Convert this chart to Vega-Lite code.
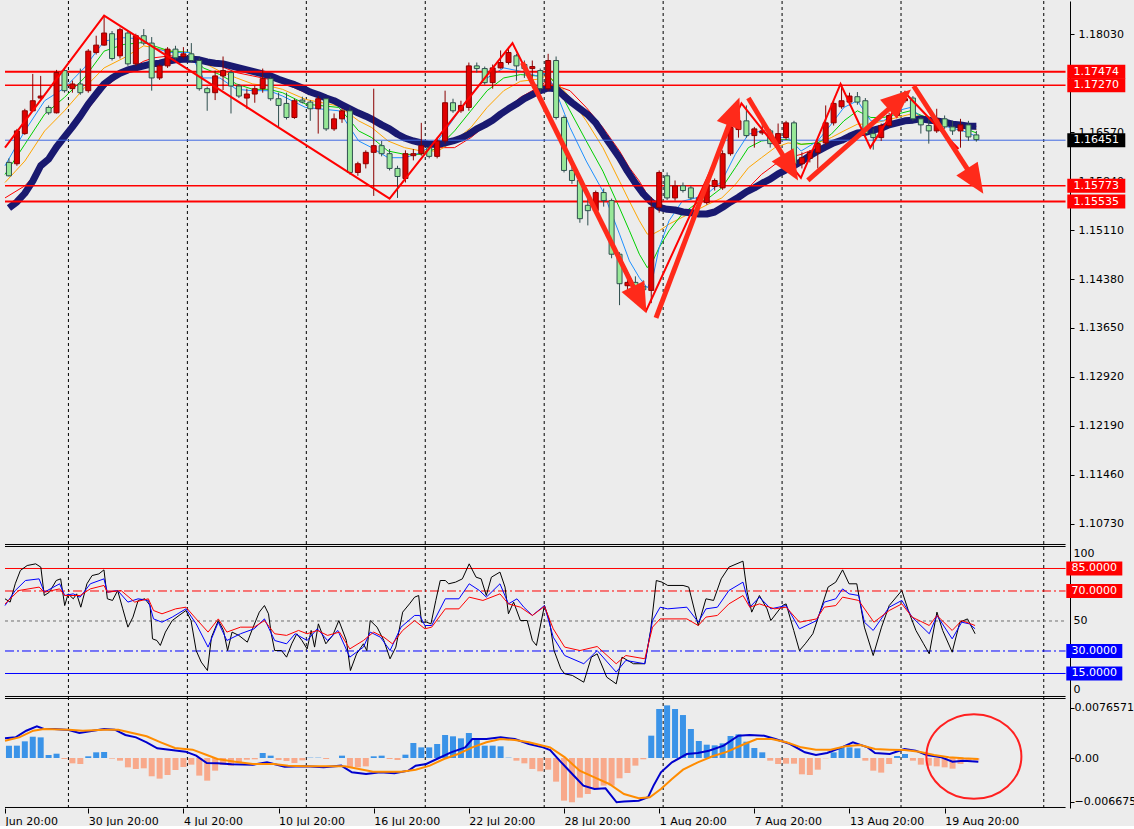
{
"$schema":"https://vega.github.io/schema/vega-lite/v6.json",
"background":"#ECECEC",
"padding":0,
"width":1134,"height":807,
"config":{"view":{"stroke":null},"axis":{"title":null,"labelFont":"DejaVu Sans","labelFontSize":11,"labelColor":"#000000","tickColor":"#000000","domain":false,"grid":false,"labelOverlap":false,"labelFlush":false}},
"resolve":{"scale":{"y":"independent","color":"independent","strokeWidth":"independent","strokeDash":"independent"},"axis":{"x":"independent","y":"independent"}},
"datasets":{
"grid":[{"x":7.5},{"x":22.5},{"x":37.5},{"x":52.5},{"x":67.5},{"x":82.5},{"x":97.5},{"x":112.5},{"x":130.5}],
"sep":[{"p":101.0},{"p":99.667},{"p":-0.333},{"p":-1.667},{"p":-74.333}],
"px":[
{"x":0,"o":1.1612,"h":1.1618,"l":1.1591,"c":1.1592,"ma":1.1544},
{"x":1,"o":1.1610,"h":1.1662,"l":1.1607,"c":1.1659,"ma":1.1553},
{"x":2,"o":1.1655,"h":1.1692,"l":1.1653,"c":1.1689,"ma":1.1566},
{"x":3,"o":1.1689,"h":1.1744,"l":1.1688,"c":1.1704,"ma":1.1584},
{"x":4,"o":1.1708,"h":1.1741,"l":1.1707,"c":1.1711,"ma":1.1607},
{"x":5,"o":1.1694,"h":1.1697,"l":1.1683,"c":1.1686,"ma":1.1617},
{"x":6,"o":1.1686,"h":1.1750,"l":1.1685,"c":1.1746,"ma":1.1635},
{"x":7,"o":1.1749,"h":1.1752,"l":1.1716,"c":1.1719,"ma":1.1650},
{"x":8,"o":1.1722,"h":1.1734,"l":1.1716,"c":1.1729,"ma":1.1665},
{"x":9,"o":1.1729,"h":1.1752,"l":1.1713,"c":1.1716,"ma":1.1681},
{"x":10,"o":1.1719,"h":1.1781,"l":1.1716,"c":1.1778,"ma":1.1699},
{"x":11,"o":1.1776,"h":1.1801,"l":1.1773,"c":1.1787,"ma":1.1714},
{"x":12,"o":1.1787,"h":1.1831,"l":1.1786,"c":1.1805,"ma":1.1729},
{"x":13,"o":1.1804,"h":1.1808,"l":1.1764,"c":1.1767,"ma":1.1738},
{"x":14,"o":1.1771,"h":1.1813,"l":1.1767,"c":1.1810,"ma":1.1745},
{"x":15,"o":1.1805,"h":1.1808,"l":1.1756,"c":1.1759,"ma":1.1750},
{"x":16,"o":1.1759,"h":1.1804,"l":1.1756,"c":1.1801,"ma":1.1753},
{"x":17,"o":1.1801,"h":1.1811,"l":1.1787,"c":1.1790,"ma":1.1756},
{"x":18,"o":1.1790,"h":1.1799,"l":1.1719,"c":1.1738,"ma":1.1759},
{"x":19,"o":1.1738,"h":1.1759,"l":1.1735,"c":1.1756,"ma":1.1760},
{"x":20,"o":1.1756,"h":1.1784,"l":1.1753,"c":1.1781,"ma":1.1763},
{"x":21,"o":1.1781,"h":1.1786,"l":1.1765,"c":1.1768,"ma":1.1765},
{"x":22,"o":1.1770,"h":1.1784,"l":1.1767,"c":1.1774,"ma":1.1766},
{"x":23,"o":1.1774,"h":1.1790,"l":1.1761,"c":1.1764,"ma":1.1766},
{"x":24,"o":1.1764,"h":1.1768,"l":1.1719,"c":1.1722,"ma":1.1765},
{"x":25,"o":1.1722,"h":1.1725,"l":1.1689,"c":1.1716,"ma":1.1762},
{"x":26,"o":1.1716,"h":1.1749,"l":1.1705,"c":1.1741,"ma":1.1760},
{"x":27,"o":1.1741,"h":1.1770,"l":1.1720,"c":1.1749,"ma":1.1759},
{"x":28,"o":1.1746,"h":1.1749,"l":1.1685,"c":1.1726,"ma":1.1756},
{"x":29,"o":1.1726,"h":1.1729,"l":1.1708,"c":1.1711,"ma":1.1753},
{"x":30,"o":1.1708,"h":1.1722,"l":1.1692,"c":1.1714,"ma":1.1750},
{"x":31,"o":1.1714,"h":1.1726,"l":1.1701,"c":1.1722,"ma":1.1747},
{"x":32,"o":1.1722,"h":1.1752,"l":1.1716,"c":1.1737,"ma":1.1744},
{"x":33,"o":1.1737,"h":1.1740,"l":1.1704,"c":1.1707,"ma":1.1741},
{"x":34,"o":1.1707,"h":1.1716,"l":1.1664,"c":1.1697,"ma":1.1736},
{"x":35,"o":1.1700,"h":1.1716,"l":1.1676,"c":1.1679,"ma":1.1732},
{"x":36,"o":1.1679,"h":1.1707,"l":1.1677,"c":1.1704,"ma":1.1728},
{"x":37,"o":1.1705,"h":1.1710,"l":1.1700,"c":1.1702,"ma":1.1723},
{"x":38,"o":1.1702,"h":1.1705,"l":1.1674,"c":1.1692,"ma":1.1717},
{"x":39,"o":1.1692,"h":1.1711,"l":1.1655,"c":1.1707,"ma":1.1713},
{"x":40,"o":1.1707,"h":1.1708,"l":1.1659,"c":1.1662,"ma":1.1708},
{"x":41,"o":1.1662,"h":1.1685,"l":1.1659,"c":1.1677,"ma":1.1704},
{"x":42,"o":1.1677,"h":1.1692,"l":1.1671,"c":1.1689,"ma":1.1698},
{"x":43,"o":1.1689,"h":1.1694,"l":1.1594,"c":1.1597,"ma":1.1692},
{"x":44,"o":1.1597,"h":1.1613,"l":1.1592,"c":1.1610,"ma":1.1686},
{"x":45,"o":1.1610,"h":1.1630,"l":1.1603,"c":1.1627,"ma":1.1681},
{"x":46,"o":1.1627,"h":1.1722,"l":1.1562,"c":1.1637,"ma":1.1675},
{"x":47,"o":1.1637,"h":1.1644,"l":1.1621,"c":1.1625,"ma":1.1668},
{"x":48,"o":1.1625,"h":1.1632,"l":1.1600,"c":1.1603,"ma":1.1662},
{"x":49,"o":1.1603,"h":1.1607,"l":1.1559,"c":1.1591,"ma":1.1654},
{"x":50,"o":1.1588,"h":1.1630,"l":1.1582,"c":1.1625,"ma":1.1648},
{"x":51,"o":1.1622,"h":1.1632,"l":1.1615,"c":1.1625,"ma":1.1644},
{"x":52,"o":1.1625,"h":1.1671,"l":1.1622,"c":1.1637,"ma":1.1641},
{"x":53,"o":1.1634,"h":1.1637,"l":1.1618,"c":1.1621,"ma":1.1639},
{"x":54,"o":1.1621,"h":1.1649,"l":1.1618,"c":1.1644,"ma":1.1639},
{"x":55,"o":1.1644,"h":1.1719,"l":1.1640,"c":1.1701,"ma":1.1641},
{"x":56,"o":1.1701,"h":1.1707,"l":1.1686,"c":1.1689,"ma":1.1644},
{"x":57,"o":1.1689,"h":1.1704,"l":1.1686,"c":1.1697,"ma":1.1648},
{"x":58,"o":1.1694,"h":1.1761,"l":1.1689,"c":1.1756,"ma":1.1654},
{"x":59,"o":1.1756,"h":1.1761,"l":1.1746,"c":1.1752,"ma":1.1662},
{"x":60,"o":1.1752,"h":1.1755,"l":1.1728,"c":1.1731,"ma":1.1668},
{"x":61,"o":1.1731,"h":1.1758,"l":1.1722,"c":1.1753,"ma":1.1675},
{"x":62,"o":1.1753,"h":1.1779,"l":1.1752,"c":1.1761,"ma":1.1684},
{"x":63,"o":1.1761,"h":1.1781,"l":1.1758,"c":1.1776,"ma":1.1692},
{"x":64,"o":1.1771,"h":1.1774,"l":1.1734,"c":1.1756,"ma":1.1699},
{"x":65,"o":1.1758,"h":1.1764,"l":1.1738,"c":1.1752,"ma":1.1707},
{"x":66,"o":1.1752,"h":1.1764,"l":1.1738,"c":1.1755,"ma":1.1713},
{"x":67,"o":1.1749,"h":1.1752,"l":1.1716,"c":1.1722,"ma":1.1719},
{"x":68,"o":1.1722,"h":1.1774,"l":1.1719,"c":1.1764,"ma":1.1723},
{"x":69,"o":1.1764,"h":1.1770,"l":1.1676,"c":1.1679,"ma":1.1722},
{"x":70,"o":1.1679,"h":1.1682,"l":1.1597,"c":1.1600,"ma":1.1711},
{"x":71,"o":1.1600,"h":1.1607,"l":1.1580,"c":1.1585,"ma":1.1701},
{"x":72,"o":1.1585,"h":1.1591,"l":1.1522,"c":1.1528,"ma":1.1692},
{"x":73,"o":1.1548,"h":1.1558,"l":1.1518,"c":1.1540,"ma":1.1683},
{"x":74,"o":1.1540,"h":1.1570,"l":1.1537,"c":1.1567,"ma":1.1671},
{"x":75,"o":1.1567,"h":1.1573,"l":1.1546,"c":1.1555,"ma":1.1653},
{"x":76,"o":1.1555,"h":1.1558,"l":1.1469,"c":1.1475,"ma":1.1636},
{"x":77,"o":1.1475,"h":1.1478,"l":1.1399,"c":1.1431,"ma":1.1619},
{"x":78,"o":1.1428,"h":1.1439,"l":1.1421,"c":1.1433,"ma":1.1599},
{"x":79,"o":1.1433,"h":1.1442,"l":1.1418,"c":1.1427,"ma":1.1581},
{"x":80,"o":1.1427,"h":1.1436,"l":1.1412,"c":1.1422,"ma":1.1565},
{"x":81,"o":1.1421,"h":1.1560,"l":1.1402,"c":1.1545,"ma":1.1553},
{"x":82,"o":1.1545,"h":1.1600,"l":1.1537,"c":1.1597,"ma":1.1545},
{"x":83,"o":1.1592,"h":1.1597,"l":1.1556,"c":1.1559,"ma":1.1542},
{"x":84,"o":1.1559,"h":1.1585,"l":1.1555,"c":1.1577,"ma":1.1541},
{"x":85,"o":1.1577,"h":1.1582,"l":1.1567,"c":1.1570,"ma":1.1538},
{"x":86,"o":1.1574,"h":1.1577,"l":1.1556,"c":1.1559,"ma":1.1537},
{"x":87,"o":1.1559,"h":1.1562,"l":1.1533,"c":1.1552,"ma":1.1535},
{"x":88,"o":1.1552,"h":1.1585,"l":1.1549,"c":1.1579,"ma":1.1535},
{"x":89,"o":1.1576,"h":1.1588,"l":1.1570,"c":1.1585,"ma":1.1538},
{"x":90,"o":1.1574,"h":1.1630,"l":1.1571,"c":1.1625,"ma":1.1545},
{"x":91,"o":1.1625,"h":1.1667,"l":1.1622,"c":1.1664,"ma":1.1553},
{"x":92,"o":1.1661,"h":1.1677,"l":1.1649,"c":1.1674,"ma":1.1560},
{"x":93,"o":1.1674,"h":1.1697,"l":1.1649,"c":1.1652,"ma":1.1568},
{"x":94,"o":1.1652,"h":1.1665,"l":1.1634,"c":1.1662,"ma":1.1574},
{"x":95,"o":1.1656,"h":1.1677,"l":1.1653,"c":1.1659,"ma":1.1581},
{"x":96,"o":1.1659,"h":1.1662,"l":1.1634,"c":1.1640,"ma":1.1587},
{"x":97,"o":1.1640,"h":1.1670,"l":1.1637,"c":1.1655,"ma":1.1595},
{"x":98,"o":1.1649,"h":1.1674,"l":1.1646,"c":1.1671,"ma":1.1601},
{"x":99,"o":1.1671,"h":1.1674,"l":1.1606,"c":1.1610,"ma":1.1607},
{"x":100,"o":1.1610,"h":1.1627,"l":1.1603,"c":1.1619,"ma":1.1614},
{"x":101,"o":1.1618,"h":1.1630,"l":1.1612,"c":1.1627,"ma":1.1622},
{"x":102,"o":1.1627,"h":1.1644,"l":1.1603,"c":1.1640,"ma":1.1629},
{"x":103,"o":1.1641,"h":1.1697,"l":1.1638,"c":1.1671,"ma":1.1635},
{"x":104,"o":1.1671,"h":1.1704,"l":1.1667,"c":1.1700,"ma":1.1641},
{"x":105,"o":1.1695,"h":1.1729,"l":1.1692,"c":1.1704,"ma":1.1645},
{"x":106,"o":1.1702,"h":1.1716,"l":1.1697,"c":1.1711,"ma":1.1651},
{"x":107,"o":1.1710,"h":1.1717,"l":1.1698,"c":1.1702,"ma":1.1656},
{"x":108,"o":1.1704,"h":1.1708,"l":1.1650,"c":1.1655,"ma":1.1657},
{"x":109,"o":1.1655,"h":1.1662,"l":1.1631,"c":1.1649,"ma":1.1660},
{"x":110,"o":1.1649,"h":1.1670,"l":1.1644,"c":1.1667,"ma":1.1663},
{"x":111,"o":1.1667,"h":1.1686,"l":1.1664,"c":1.1682,"ma":1.1668},
{"x":112,"o":1.1682,"h":1.1711,"l":1.1679,"c":1.1704,"ma":1.1671},
{"x":113,"o":1.1704,"h":1.1719,"l":1.1701,"c":1.1707,"ma":1.1674},
{"x":114,"o":1.1708,"h":1.1711,"l":1.1674,"c":1.1677,"ma":1.1675},
{"x":115,"o":1.1677,"h":1.1680,"l":1.1655,"c":1.1668,"ma":1.1677},
{"x":116,"o":1.1667,"h":1.1677,"l":1.1640,"c":1.1659,"ma":1.1675},
{"x":117,"o":1.1659,"h":1.1692,"l":1.1656,"c":1.1677,"ma":1.1674},
{"x":118,"o":1.1677,"h":1.1682,"l":1.1662,"c":1.1665,"ma":1.1672},
{"x":119,"o":1.1665,"h":1.1674,"l":1.1653,"c":1.1659,"ma":1.1669},
{"x":120,"o":1.1659,"h":1.1677,"l":1.1634,"c":1.1668,"ma":1.1668},
{"x":121,"o":1.1668,"h":1.1674,"l":1.1644,"c":1.1650,"ma":1.1666},
{"x":122,"o":1.1653,"h":1.1659,"l":1.1643,"c":1.1646,"ma":1.1666}
],
"rb":[
{"x":-0.5,"b":1.1607,"g":1.1594,"o":1.1582,"r":1.1559},
{"x":2,"b":1.1659,"g":1.1639,"o":1.1614,"r":1.1577},
{"x":4.5,"b":1.1704,"g":1.1684,"o":1.1659,"r":1.1609},
{"x":7,"b":1.1723,"g":1.1709,"o":1.1689,"r":1.1644},
{"x":9.5,"b":1.1753,"g":1.1738,"o":1.1723,"r":1.1684},
{"x":12,"b":1.1793,"g":1.1778,"o":1.1753,"r":1.1723},
{"x":14.5,"b":1.1798,"g":1.1788,"o":1.1768,"r":1.1746},
{"x":17,"b":1.1796,"g":1.1791,"o":1.1786,"r":1.1763},
{"x":18.25,"b":1.1783,"g":1.1786,"o":1.1783,"r":1.1768},
{"x":20.3,"b":1.1776,"g":1.1778,"o":1.1778,"r":1.1771},
{"x":22.8,"b":1.1776,"g":1.1776,"o":1.1776,"r":1.1768},
{"x":24.5,"b":1.1738,"g":1.1753,"o":1.1761,"r":1.1763},
{"x":26.6,"b":1.1738,"g":1.1743,"o":1.1748,"r":1.1756},
{"x":28.7,"b":1.1721,"g":1.1729,"o":1.1738,"r":1.1746},
{"x":30.75,"b":1.1719,"g":1.1721,"o":1.1729,"r":1.1741},
{"x":32.8,"b":1.1719,"g":1.1721,"o":1.1726,"r":1.1736},
{"x":34.5,"b":1.1711,"g":1.1716,"o":1.1721,"r":1.1731},
{"x":37.4,"b":1.1694,"g":1.1699,"o":1.1706,"r":1.1716},
{"x":41.6,"b":1.1689,"g":1.1694,"o":1.1696,"r":1.1704},
{"x":44.1,"b":1.1644,"g":1.1659,"o":1.1674,"r":1.1689},
{"x":45.75,"b":1.1634,"g":1.1649,"o":1.1664,"r":1.1679},
{"x":47.8,"b":1.1619,"g":1.1629,"o":1.1644,"r":1.1661},
{"x":49.9,"b":1.1619,"g":1.1624,"o":1.1634,"r":1.1649},
{"x":52,"b":1.1627,"g":1.1624,"o":1.1629,"r":1.1639},
{"x":54.1,"b":1.1644,"g":1.1634,"o":1.1629,"r":1.1634},
{"x":56.2,"b":1.1679,"g":1.1659,"o":1.1644,"r":1.1634},
{"x":58.25,"b":1.1714,"g":1.1689,"o":1.1664,"r":1.1649},
{"x":60.3,"b":1.1738,"g":1.1719,"o":1.1694,"r":1.1669},
{"x":62.4,"b":1.1753,"g":1.1738,"o":1.1719,"r":1.1689},
{"x":64.5,"b":1.1748,"g":1.1743,"o":1.1733,"r":1.1709},
{"x":66.6,"b":1.1741,"g":1.1741,"o":1.1736,"r":1.1723},
{"x":67.8,"b":1.1746,"g":1.1746,"o":1.1741,"r":1.1733},
{"x":69.1,"b":1.1714,"g":1.1726,"o":1.1731,"r":1.1726},
{"x":70.75,"b":1.1664,"g":1.1689,"o":1.1709,"r":1.1719},
{"x":72.8,"b":1.1614,"g":1.1644,"o":1.1674,"r":1.1694},
{"x":74.9,"b":1.1569,"g":1.1599,"o":1.1634,"r":1.1664},
{"x":77,"b":1.1505,"g":1.1544,"o":1.1584,"r":1.1629},
{"x":78.25,"b":1.1465,"g":1.1510,"o":1.1554,"r":1.1604},
{"x":79.5,"b":1.1440,"g":1.1475,"o":1.1525,"r":1.1584},
{"x":80.5,"b":1.1425,"g":1.1455,"o":1.1505,"r":1.1564},
{"x":81.2,"b":1.1440,"g":1.1465,"o":1.1505,"r":1.1557},
{"x":82,"b":1.1485,"g":1.1485,"o":1.1510,"r":1.1550},
{"x":83.25,"b":1.1525,"g":1.1510,"o":1.1520,"r":1.1544},
{"x":84.9,"b":1.1554,"g":1.1535,"o":1.1530,"r":1.1540},
{"x":86.6,"b":1.1559,"g":1.1550,"o":1.1540,"r":1.1535},
{"x":88.25,"b":1.1567,"g":1.1559,"o":1.1550,"r":1.1537},
{"x":89.9,"b":1.1584,"g":1.1574,"o":1.1559,"r":1.1542},
{"x":91.6,"b":1.1624,"g":1.1604,"o":1.1579,"r":1.1559},
{"x":93.25,"b":1.1654,"g":1.1634,"o":1.1604,"r":1.1574},
{"x":94.9,"b":1.1659,"g":1.1644,"o":1.1619,"r":1.1594},
{"x":96.6,"b":1.1649,"g":1.1646,"o":1.1634,"r":1.1609},
{"x":98.25,"b":1.1649,"g":1.1646,"o":1.1641,"r":1.1619},
{"x":99.9,"b":1.1629,"g":1.1639,"o":1.1639,"r":1.1624},
{"x":102,"b":1.1644,"g":1.1641,"o":1.1641,"r":1.1634},
{"x":103.7,"b":1.1669,"g":1.1654,"o":1.1649,"r":1.1641},
{"x":105.3,"b":1.1694,"g":1.1674,"o":1.1659,"r":1.1646},
{"x":107,"b":1.1704,"g":1.1689,"o":1.1669,"r":1.1651},
{"x":108.7,"b":1.1674,"g":1.1679,"o":1.1669,"r":1.1656},
{"x":110.3,"b":1.1674,"g":1.1679,"o":1.1674,"r":1.1661},
{"x":112,"b":1.1689,"g":1.1684,"o":1.1679,"r":1.1669},
{"x":113.7,"b":1.1694,"g":1.1689,"o":1.1684,"r":1.1674},
{"x":115.3,"b":1.1676,"g":1.1681,"o":1.1681,"r":1.1676},
{"x":117,"b":1.1669,"g":1.1674,"o":1.1678,"r":1.1675},
{"x":118.7,"b":1.1664,"g":1.1669,"o":1.1671,"r":1.1673},
{"x":120.3,"b":1.1659,"g":1.1664,"o":1.1668,"r":1.1670},
{"x":122,"b":1.1651,"g":1.1656,"o":1.1661,"r":1.1666}
],
"lv":[{"p":1.17474,"k":"thick"},{"p":1.17270,"k":"thin"},{"p":1.15773,"k":"thin"},{"p":1.15535,"k":"thick"},{"p":1.16451,"k":"cur"}],
"zz":[{"x":-0.5,"v":1.1634},{"x":12,"v":1.1831},{"x":48,"v":1.1558},{"x":63.5,"v":1.1790},{"x":80.375,"v":1.1391},{"x":92.375,"v":1.1700},{"x":99.875,"v":1.1589},{"x":104.875,"v":1.1729},{"x":108.625,"v":1.1634},{"x":113,"v":1.1716},{"x":119.75,"v":1.1632}],
"arr":[{"a":1,"x":64.75,"v":1.1761},{"a":1,"x":79.54,"v":1.1407},{"a":2,"x":81.6,"v":1.1380},{"a":2,"x":91.45,"v":1.1688},{"a":3,"x":93.25,"v":1.1708},{"a":3,"x":98.54,"v":1.1604},{"a":4,"x":100.75,"v":1.1585},{"a":4,"x":112.34,"v":1.1706},{"a":5,"x":114.1,"v":1.1726},{"a":5,"x":121.85,"v":1.1584}],
"hd":[{"a":1,"x":79.54,"v":1.1407},{"a":2,"x":91.45,"v":1.1688},{"a":3,"x":98.54,"v":1.1604},{"a":4,"x":112.34,"v":1.1706},{"a":5,"x":121.85,"v":1.1584}],
"rl":[{"p":85,"k":"r1"},{"p":70,"k":"r2"},{"p":50,"k":"mid"},{"p":30,"k":"b2"},{"p":15,"k":"b1"}],
"rsi":[
{"x":-0.5,"s":"k","v":64.8},{"x":0.15,"s":"k","v":62.6},{"x":0.79,"s":"k","v":74.8},{"x":1.44,"s":"k","v":83.7},{"x":2.3,"s":"k","v":87},{"x":3.37,"s":"k","v":88.1},{"x":4.02,"s":"k","v":85.9},{"x":4.45,"s":"k","v":67},{"x":5.1,"s":"k","v":69.2},{"x":5.96,"s":"k","v":77},{"x":6.52,"s":"k","v":78.1},{"x":7.03,"s":"k","v":60.3},{"x":7.46,"s":"k","v":68.1},{"x":8.11,"s":"k","v":64.8},{"x":8.54,"s":"k","v":68.1},{"x":9.06,"s":"k","v":59.2},{"x":9.83,"s":"k","v":74.8},{"x":10.48,"s":"k","v":80.3},{"x":11.34,"s":"k","v":81.4},{"x":11.98,"s":"k","v":84.1},{"x":12.41,"s":"k","v":64.8},{"x":13.06,"s":"k","v":63.7},{"x":13.71,"s":"k","v":70.3},{"x":14.35,"s":"k","v":58.1},{"x":15,"s":"k","v":45.9},{"x":15.64,"s":"k","v":52.6},{"x":16.29,"s":"k","v":63.7},{"x":17.15,"s":"k","v":64.8},{"x":17.8,"s":"k","v":60.3},{"x":18.1,"s":"k","v":38.1},{"x":18.66,"s":"k","v":37},{"x":19.09,"s":"k","v":33.7},{"x":19.73,"s":"k","v":42.6},{"x":20.59,"s":"k","v":50.3},{"x":21.45,"s":"k","v":53.7},{"x":22.32,"s":"k","v":57},{"x":22.96,"s":"k","v":50.3},{"x":23.61,"s":"k","v":30.3},{"x":24.25,"s":"k","v":22.6},{"x":25.03,"s":"k","v":17},{"x":25.54,"s":"k","v":39.2},{"x":26.4,"s":"k","v":50.3},{"x":27.05,"s":"k","v":43.7},{"x":27.57,"s":"k","v":30.3},{"x":28.13,"s":"k","v":42.6},{"x":28.99,"s":"k","v":40.4},{"x":30.06,"s":"k","v":35.9},{"x":30.71,"s":"k","v":44.8},{"x":31.57,"s":"k","v":55.9},{"x":32.22,"s":"k","v":60.3},{"x":32.73,"s":"k","v":54.8},{"x":33.08,"s":"k","v":41.5},{"x":33.51,"s":"k","v":30.3},{"x":34.37,"s":"k","v":30.3},{"x":35.01,"s":"k","v":25.9},{"x":35.66,"s":"k","v":34.8},{"x":36.3,"s":"k","v":41.5},{"x":36.95,"s":"k","v":37},{"x":37.6,"s":"k","v":31.4},{"x":38.11,"s":"k","v":43.7},{"x":38.54,"s":"k","v":32.6},{"x":39.02,"s":"k","v":48.1},{"x":39.96,"s":"k","v":34.8},{"x":40.83,"s":"k","v":40.4},{"x":41.6,"s":"k","v":50.3},{"x":42.55,"s":"k","v":37},{"x":43.06,"s":"k","v":17},{"x":43.84,"s":"k","v":28.1},{"x":44.7,"s":"k","v":34.8},{"x":45.13,"s":"k","v":30.3},{"x":45.56,"s":"k","v":50.3},{"x":46.42,"s":"k","v":45.9},{"x":47.28,"s":"k","v":37},{"x":48.06,"s":"k","v":24.8},{"x":48.79,"s":"k","v":32.6},{"x":49.65,"s":"k","v":55.9},{"x":50.51,"s":"k","v":61.4},{"x":51.16,"s":"k","v":65.9},{"x":51.67,"s":"k","v":67},{"x":52.02,"s":"k","v":49.2},{"x":52.66,"s":"k","v":49.2},{"x":53.22,"s":"k","v":48.1},{"x":53.83,"s":"k","v":63.7},{"x":54.39,"s":"k","v":77},{"x":55.03,"s":"k","v":77},{"x":55.46,"s":"k","v":74.8},{"x":56.32,"s":"k","v":75.9},{"x":57.18,"s":"k","v":78.1},{"x":58.04,"s":"k","v":88.1},{"x":58.91,"s":"k","v":79.2},{"x":59.55,"s":"k","v":78.1},{"x":60.2,"s":"k","v":67},{"x":60.84,"s":"k","v":79.2},{"x":61.92,"s":"k","v":82.6},{"x":62.56,"s":"k","v":72.6},{"x":62.99,"s":"k","v":54.8},{"x":63.64,"s":"k","v":62.6},{"x":64.5,"s":"k","v":50.3},{"x":65.36,"s":"k","v":50.3},{"x":66.01,"s":"k","v":37},{"x":66.52,"s":"k","v":33.7},{"x":67.53,"s":"k","v":60.3},{"x":68.16,"s":"k","v":50.3},{"x":68.74,"s":"k","v":30.3},{"x":69.6,"s":"k","v":18.1},{"x":70.08,"s":"k","v":14.8},{"x":71.05,"s":"k","v":13.7},{"x":72.49,"s":"k","v":9.2},{"x":73.45,"s":"k","v":25.9},{"x":74.18,"s":"k","v":28.1},{"x":75.38,"s":"k","v":12.6},{"x":76.58,"s":"k","v":8.1},{"x":77.31,"s":"k","v":25.9},{"x":78.75,"s":"k","v":21.5},{"x":80.19,"s":"k","v":21.5},{"x":80.92,"s":"k","v":43.7},{"x":81.64,"s":"k","v":77},{"x":82.36,"s":"k","v":75.9},{"x":83.08,"s":"k","v":73.7},{"x":85.01,"s":"k","v":73.7},{"x":85.73,"s":"k","v":72.6},{"x":86.93,"s":"k","v":47},{"x":87.9,"s":"k","v":64.8},{"x":88.86,"s":"k","v":63.7},{"x":89.82,"s":"k","v":78.1},{"x":90.79,"s":"k","v":85.9},{"x":92.57,"s":"k","v":89.9},{"x":93.1,"s":"k","v":69.2},{"x":93.67,"s":"k","v":55.9},{"x":94.64,"s":"k","v":67},{"x":95.6,"s":"k","v":58.1},{"x":96.08,"s":"k","v":50.3},{"x":97.53,"s":"k","v":60.3},{"x":98.01,"s":"k","v":61.4},{"x":98.97,"s":"k","v":43.7},{"x":99.69,"s":"k","v":30.3},{"x":100.42,"s":"k","v":34.8},{"x":101.38,"s":"k","v":41.5},{"x":102.34,"s":"k","v":57},{"x":103.3,"s":"k","v":72.6},{"x":104.27,"s":"k","v":75.9},{"x":105.13,"s":"k","v":84.1},{"x":105.95,"s":"k","v":74.8},{"x":106.92,"s":"k","v":74.8},{"x":107.88,"s":"k","v":45.9},{"x":108.99,"s":"k","v":27},{"x":110.04,"s":"k","v":45.9},{"x":111.01,"s":"k","v":60.3},{"x":112.6,"s":"k","v":70.3},{"x":113.42,"s":"k","v":57},{"x":114.38,"s":"k","v":43.7},{"x":115.34,"s":"k","v":34.8},{"x":116.06,"s":"k","v":28.1},{"x":117.03,"s":"k","v":55.9},{"x":117.75,"s":"k","v":43.7},{"x":118.95,"s":"k","v":29.2},{"x":119.91,"s":"k","v":49.2},{"x":120.88,"s":"k","v":51.4},{"x":121.84,"s":"k","v":41.5},
{"x":-0.5,"s":"b","v":60.3},{"x":0.79,"s":"b","v":70.3},{"x":2.08,"s":"b","v":77},{"x":3.8,"s":"b","v":78.1},{"x":4.45,"s":"b","v":69.2},{"x":6.39,"s":"b","v":74.8},{"x":7.03,"s":"b","v":67},{"x":8.11,"s":"b","v":68.1},{"x":8.97,"s":"b","v":65.9},{"x":10.26,"s":"b","v":74.8},{"x":11.98,"s":"b","v":78.1},{"x":12.41,"s":"b","v":69.2},{"x":13.71,"s":"b","v":70.3},{"x":15,"s":"b","v":62.6},{"x":16.29,"s":"b","v":64.8},{"x":17.58,"s":"b","v":63.7},{"x":18.23,"s":"b","v":51.4},{"x":19.3,"s":"b","v":49.2},{"x":20.59,"s":"b","v":52.6},{"x":22.32,"s":"b","v":58.1},{"x":23.61,"s":"b","v":48.1},{"x":25.11,"s":"b","v":32.6},{"x":26.4,"s":"b","v":49.2},{"x":27.48,"s":"b","v":37},{"x":29.2,"s":"b","v":41.5},{"x":30.92,"s":"b","v":44.8},{"x":32.22,"s":"b","v":51.4},{"x":33.51,"s":"b","v":37},{"x":35.01,"s":"b","v":34.8},{"x":36.09,"s":"b","v":41.5},{"x":37.6,"s":"b","v":37},{"x":38.89,"s":"b","v":44.8},{"x":40.18,"s":"b","v":37},{"x":41.47,"s":"b","v":43.7},{"x":42.98,"s":"b","v":25.9},{"x":44.7,"s":"b","v":32.6},{"x":45.56,"s":"b","v":42.6},{"x":46.85,"s":"b","v":39.2},{"x":48.06,"s":"b","v":30.3},{"x":49.44,"s":"b","v":45.9},{"x":51.16,"s":"b","v":53.7},{"x":51.8,"s":"b","v":53.7},{"x":52.45,"s":"b","v":47},{"x":53.31,"s":"b","v":47},{"x":55.03,"s":"b","v":64.8},{"x":56.75,"s":"b","v":64.8},{"x":58.04,"s":"b","v":74.8},{"x":59.34,"s":"b","v":70.3},{"x":60.2,"s":"b","v":65.9},{"x":61.92,"s":"b","v":74.8},{"x":62.99,"s":"b","v":61.4},{"x":64.07,"s":"b","v":64.8},{"x":64.93,"s":"b","v":59.2},{"x":66.01,"s":"b","v":53.7},{"x":67.53,"s":"b","v":60.3},{"x":68.64,"s":"b","v":39.2},{"x":70.08,"s":"b","v":27},{"x":72.49,"s":"b","v":21.5},{"x":74.18,"s":"b","v":30.3},{"x":76.58,"s":"b","v":15.9},{"x":77.79,"s":"b","v":23.7},{"x":80.19,"s":"b","v":21.5},{"x":81.16,"s":"b","v":50.3},{"x":82.12,"s":"b","v":59.2},{"x":83.08,"s":"b","v":58.1},{"x":85.49,"s":"b","v":59.2},{"x":86.93,"s":"b","v":49.2},{"x":87.9,"s":"b","v":58.1},{"x":89.34,"s":"b","v":59.2},{"x":90.79,"s":"b","v":70.3},{"x":92.57,"s":"b","v":75.9},{"x":93.43,"s":"b","v":59.2},{"x":94.64,"s":"b","v":65.9},{"x":96.08,"s":"b","v":58.1},{"x":98.01,"s":"b","v":60.3},{"x":99.69,"s":"b","v":44.8},{"x":101.86,"s":"b","v":50.3},{"x":102.82,"s":"b","v":62.6},{"x":104.27,"s":"b","v":64.8},{"x":105.13,"s":"b","v":71.4},{"x":105.95,"s":"b","v":68.1},{"x":107.16,"s":"b","v":67},{"x":107.88,"s":"b","v":49.2},{"x":108.99,"s":"b","v":43.7},{"x":111.01,"s":"b","v":59.2},{"x":112.6,"s":"b","v":63.7},{"x":113.9,"s":"b","v":52.6},{"x":116.06,"s":"b","v":41.5},{"x":117.03,"s":"b","v":53.7},{"x":118.95,"s":"b","v":38.1},{"x":120.15,"s":"b","v":49.2},{"x":121.12,"s":"b","v":48.1},{"x":121.84,"s":"b","v":44.8},
{"x":-0.5,"s":"r","v":61.4},{"x":1.22,"s":"r","v":70.3},{"x":3.8,"s":"r","v":72.6},{"x":4.45,"s":"r","v":69.2},{"x":6.39,"s":"r","v":71.4},{"x":7.03,"s":"r","v":67},{"x":8.97,"s":"r","v":67},{"x":10.26,"s":"r","v":71.4},{"x":11.98,"s":"r","v":73.7},{"x":12.41,"s":"r","v":69.2},{"x":14.14,"s":"r","v":70.3},{"x":15.86,"s":"r","v":62.6},{"x":17.58,"s":"r","v":64.8},{"x":18.23,"s":"r","v":57},{"x":19.3,"s":"r","v":54.8},{"x":21.02,"s":"r","v":58.1},{"x":22.32,"s":"r","v":59.2},{"x":23.61,"s":"r","v":51.4},{"x":25.11,"s":"r","v":42.6},{"x":26.4,"s":"r","v":51.4},{"x":27.48,"s":"r","v":42.6},{"x":29.2,"s":"r","v":45.9},{"x":30.92,"s":"r","v":45.9},{"x":32.22,"s":"r","v":50.3},{"x":33.51,"s":"r","v":41.5},{"x":35.01,"s":"r","v":40.4},{"x":36.52,"s":"r","v":43.7},{"x":37.6,"s":"r","v":41.5},{"x":38.89,"s":"r","v":43.7},{"x":40.18,"s":"r","v":40.4},{"x":41.69,"s":"r","v":42.6},{"x":42.98,"s":"r","v":31.4},{"x":44.7,"s":"r","v":37},{"x":45.99,"s":"r","v":42.6},{"x":47.28,"s":"r","v":39.2},{"x":48.36,"s":"r","v":34.8},{"x":49.65,"s":"r","v":43.7},{"x":51.16,"s":"r","v":50.3},{"x":52.45,"s":"r","v":44.8},{"x":53.31,"s":"r","v":45.9},{"x":55.03,"s":"r","v":58.1},{"x":56.75,"s":"r","v":58.1},{"x":58.04,"s":"r","v":65.9},{"x":59.77,"s":"r","v":63.7},{"x":61.92,"s":"r","v":68.1},{"x":62.99,"s":"r","v":61.4},{"x":64.5,"s":"r","v":59.2},{"x":66.01,"s":"r","v":53.7},{"x":67.53,"s":"r","v":59.7},{"x":68.64,"s":"r","v":44.8},{"x":70.08,"s":"r","v":32.6},{"x":72.01,"s":"r","v":30.3},{"x":74.18,"s":"r","v":33},{"x":76.58,"s":"r","v":21.5},{"x":77.79,"s":"r","v":27},{"x":80.19,"s":"r","v":24.8},{"x":81.16,"s":"r","v":45.9},{"x":82.12,"s":"r","v":51.4},{"x":85.49,"s":"r","v":51.4},{"x":86.93,"s":"r","v":47},{"x":87.9,"s":"r","v":52.6},{"x":89.34,"s":"r","v":53.7},{"x":90.79,"s":"r","v":61.4},{"x":92.57,"s":"r","v":67},{"x":93.43,"s":"r","v":59.2},{"x":94.64,"s":"r","v":61.4},{"x":96.56,"s":"r","v":58.1},{"x":98.01,"s":"r","v":59.2},{"x":99.69,"s":"r","v":49.2},{"x":101.86,"s":"r","v":51.4},{"x":102.82,"s":"r","v":59.2},{"x":104.27,"s":"r","v":60.3},{"x":105.13,"s":"r","v":65.9},{"x":107.16,"s":"r","v":63.7},{"x":109.08,"s":"r","v":49.2},{"x":111.01,"s":"r","v":57},{"x":112.6,"s":"r","v":61.4},{"x":113.9,"s":"r","v":52.6},{"x":116.06,"s":"r","v":47},{"x":117.03,"s":"r","v":53.7},{"x":118.95,"s":"r","v":43.7},{"x":120.15,"s":"r","v":50.3},{"x":121.84,"s":"r","v":47}
],
"mh":[
{"x":0,"v":0.00189},{"x":1,"v":0.00189},{"x":2,"v":0.00255},{"x":3,"v":0.00326},{"x":4,"v":0.00316},{"x":5,"v":0.00046},{"x":6,"v":0.00066},{"x":7,"v":-0.00015},{"x":8,"v":-0.00082},{"x":9,"v":-0.00092},{"x":10,"v":0.00026},{"x":11,"v":0.00087},{"x":12,"v":0.00092},{"x":13,"v":-0.0001},{"x":14,"v":-0.00041},{"x":15,"v":-0.00143},{"x":16,"v":-0.00168},{"x":17,"v":-0.00158},{"x":18,"v":-0.0028},{"x":19,"v":-0.00316},{"x":20,"v":-0.0026},{"x":21,"v":-0.00184},{"x":22,"v":-0.00138},{"x":23,"v":-0.00102},{"x":24,"v":-0.0027},{"x":25,"v":-0.00347},{"x":26,"v":-0.00194},{"x":27,"v":-0.00107},{"x":28,"v":-0.00117},{"x":29,"v":-0.00066},{"x":30,"v":-0.00026},{"x":31,"v":-0.0002},{"x":32,"v":0.00077},{"x":33,"v":0.00036},{"x":34,"v":-0.00031},{"x":35,"v":-0.00046},{"x":36,"v":-0.00077},{"x":37,"v":-0.00036},{"x":38,"v":0.00005},{"x":39,"v":0.00005},{"x":40,"v":-0.00015},{"x":41,"v":0},{"x":42,"v":0.00036},{"x":43,"v":-0.00143},{"x":44,"v":-0.00143},{"x":45,"v":-0.00128},{"x":46,"v":0.00026},{"x":47,"v":0.00036},{"x":48,"v":-0.00015},{"x":49,"v":-0.00031},{"x":50,"v":0.00051},{"x":51,"v":0.0023},{"x":52,"v":0.00163},{"x":53,"v":0.00163},{"x":54,"v":0.00214},{"x":55,"v":0.00352},{"x":56,"v":0.00332},{"x":57,"v":0.00301},{"x":58,"v":0.00383},{"x":59,"v":0.00301},{"x":60,"v":0.00189},{"x":61,"v":0.00189},{"x":62,"v":0.00179},{"x":63,"v":0.00005},{"x":64,"v":-0.00041},{"x":65,"v":-0.00082},{"x":66,"v":-0.00168},{"x":67,"v":-0.00204},{"x":68,"v":-0.00179},{"x":69,"v":-0.00362},{"x":70,"v":-0.00653},{"x":71,"v":-0.00678},{"x":72,"v":-0.00607},{"x":73,"v":-0.00551},{"x":74,"v":-0.00464},{"x":75,"v":-0.00423},{"x":76,"v":-0.00423},{"x":77,"v":-0.00311},{"x":78,"v":-0.0023},{"x":79,"v":-0.00117},{"x":80,"v":-0.0002},{"x":81,"v":0.00342},{"x":82,"v":0.0075},{"x":83,"v":0.00806},{"x":84,"v":0.0075},{"x":85,"v":0.00658},{"x":86,"v":0.00444},{"x":87,"v":0.0026},{"x":88,"v":0.00204},{"x":89,"v":0.00194},{"x":90,"v":0.00224},{"x":91,"v":0.00337},{"x":92,"v":0.00362},{"x":93,"v":0.0025},{"x":94,"v":0.00153},{"x":95,"v":0.00087},{"x":96,"v":-0.00041},{"x":97,"v":-0.00092},{"x":98,"v":-0.00087},{"x":99,"v":-0.00087},{"x":100,"v":-0.0025},{"x":101,"v":-0.0026},{"x":102,"v":-0.00179},{"x":103,"v":-0.00005},{"x":104,"v":0.00087},{"x":105,"v":0.00163},{"x":106,"v":0.00163},{"x":107,"v":0.00148},{"x":108,"v":-0.00041},{"x":109,"v":-0.00194},{"x":110,"v":-0.00224},{"x":111,"v":-0.00092},{"x":112,"v":0.00031},{"x":113,"v":0.00061},{"x":114,"v":-0.00041},{"x":115,"v":-0.00102},{"x":116,"v":-0.00117},{"x":117,"v":-0.00128},{"x":118,"v":-0.00143},{"x":119,"v":-0.00163},{"x":120,"v":-0.00092},{"x":121,"v":-0.00046},{"x":122,"v":-0.00036}
],
"ml":[
{"x":-0.5,"s":"b","v":0.00301},{"x":0.84,"s":"b","v":0.00316},{"x":2.18,"s":"b","v":0.00418},{"x":3.52,"s":"b","v":0.00485},{"x":4.41,"s":"b","v":0.00444},{"x":5.75,"s":"b","v":0.00444},{"x":7.54,"s":"b","v":0.00428},{"x":8.88,"s":"b","v":0.00383},{"x":10.21,"s":"b","v":0.00408},{"x":12,"s":"b","v":0.00444},{"x":13.34,"s":"b","v":0.00434},{"x":14.68,"s":"b","v":0.00352},{"x":16.02,"s":"b","v":0.00316},{"x":17.36,"s":"b","v":0.0024},{"x":18.7,"s":"b","v":0.00148},{"x":20.48,"s":"b","v":0.00122},{"x":22.27,"s":"b","v":0.00097},{"x":23.61,"s":"b","v":0.00036},{"x":24.95,"s":"b","v":-0.00077},{"x":26.29,"s":"b","v":-0.00082},{"x":28.07,"s":"b","v":-0.00097},{"x":30.75,"s":"b","v":-0.00102},{"x":32.54,"s":"b","v":-0.00066},{"x":34.77,"s":"b","v":-0.00133},{"x":37.45,"s":"b","v":-0.00128},{"x":39.68,"s":"b","v":-0.00143},{"x":41.91,"s":"b","v":-0.00117},{"x":43.25,"s":"b","v":-0.00219},{"x":45.04,"s":"b","v":-0.00245},{"x":46.82,"s":"b","v":-0.00219},{"x":48.61,"s":"b","v":-0.00235},{"x":50.39,"s":"b","v":-0.00194},{"x":51.29,"s":"b","v":-0.00117},{"x":52.63,"s":"b","v":-0.00092},{"x":53.96,"s":"b","v":-0.00015},{"x":55.75,"s":"b","v":0.00087},{"x":57.54,"s":"b","v":0.00163},{"x":58.43,"s":"b","v":0.00291},{"x":60.21,"s":"b","v":0.00291},{"x":62,"s":"b","v":0.00316},{"x":63.79,"s":"b","v":0.00291},{"x":65.57,"s":"b","v":0.00214},{"x":67.36,"s":"b","v":0.00163},{"x":68.25,"s":"b","v":0.0012},{"x":69.65,"s":"b","v":-0.00066},{"x":71.04,"s":"b","v":-0.00245},{"x":72.44,"s":"b","v":-0.00423},{"x":73.84,"s":"b","v":-0.00474},{"x":75.23,"s":"b","v":-0.00464},{"x":76.63,"s":"b","v":-0.00678},{"x":77.56,"s":"b","v":-0.00668},{"x":79.42,"s":"b","v":-0.00653},{"x":80.59,"s":"b","v":-0.00602},{"x":81.29,"s":"b","v":-0.00423},{"x":82.22,"s":"b","v":-0.00219},{"x":83.61,"s":"b","v":-0.00066},{"x":85.48,"s":"b","v":0.00061},{"x":86.87,"s":"b","v":0.00077},{"x":88.27,"s":"b","v":0.00112},{"x":90.13,"s":"b","v":0.00189},{"x":91.99,"s":"b","v":0.00342},{"x":93.39,"s":"b","v":0.00352},{"x":95.25,"s":"b","v":0.00342},{"x":96.65,"s":"b","v":0.00291},{"x":98.51,"s":"b","v":0.00214},{"x":100.37,"s":"b","v":0.00087},{"x":101.77,"s":"b","v":0.00046},{"x":103.17,"s":"b","v":0.00077},{"x":105.03,"s":"b","v":0.00163},{"x":106.43,"s":"b","v":0.0024},{"x":108.29,"s":"b","v":0.00163},{"x":109.22,"s":"b","v":0.00077},{"x":111.08,"s":"b","v":0.00061},{"x":112.94,"s":"b","v":0.00138},{"x":114.34,"s":"b","v":0.00112},{"x":115.74,"s":"b","v":0.00046},{"x":117.6,"s":"b","v":0.0001},{"x":118.99,"s":"b","v":-0.00056},{"x":120.39,"s":"b","v":-0.00041},{"x":122.25,"s":"b","v":-0.00056},
{"x":-0.5,"s":"o","v":0.00265},{"x":1.29,"s":"o","v":0.00316},{"x":3.07,"s":"o","v":0.00418},{"x":4.41,"s":"o","v":0.00444},{"x":7.54,"s":"o","v":0.00434},{"x":9.32,"s":"o","v":0.00418},{"x":12,"s":"o","v":0.00434},{"x":13.79,"s":"o","v":0.00434},{"x":15.57,"s":"o","v":0.00383},{"x":17.36,"s":"o","v":0.00332},{"x":19.14,"s":"o","v":0.0024},{"x":20.93,"s":"o","v":0.00153},{"x":23.16,"s":"o","v":0.00128},{"x":24.95,"s":"o","v":0.00046},{"x":26.29,"s":"o","v":-0.00015},{"x":28.52,"s":"o","v":-0.00056},{"x":30.75,"s":"o","v":-0.00092},{"x":33.43,"s":"o","v":-0.00092},{"x":35.21,"s":"o","v":-0.00117},{"x":37.45,"s":"o","v":-0.00128},{"x":39.68,"s":"o","v":-0.00128},{"x":42.36,"s":"o","v":-0.00128},{"x":44.14,"s":"o","v":-0.00168},{"x":45.93,"s":"o","v":-0.00209},{"x":47.71,"s":"o","v":-0.00209},{"x":49.5,"s":"o","v":-0.00209},{"x":51.29,"s":"o","v":-0.00179},{"x":53.07,"s":"o","v":-0.00117},{"x":54.86,"s":"o","v":-0.00015},{"x":56.64,"s":"o","v":0.00061},{"x":58.43,"s":"o","v":0.00163},{"x":60.21,"s":"o","v":0.0024},{"x":62,"s":"o","v":0.00291},{"x":63.79,"s":"o","v":0.00275},{"x":65.57,"s":"o","v":0.0024},{"x":67.36,"s":"o","v":0.00189},{"x":68.25,"s":"o","v":0.00163},{"x":70.11,"s":"o","v":0.0001},{"x":71.97,"s":"o","v":-0.00194},{"x":73.84,"s":"o","v":-0.00296},{"x":75.7,"s":"o","v":-0.00398},{"x":77.56,"s":"o","v":-0.00551},{"x":79.42,"s":"o","v":-0.00617},{"x":80.82,"s":"o","v":-0.00602},{"x":82.22,"s":"o","v":-0.00474},{"x":83.61,"s":"o","v":-0.00321},{"x":85.01,"s":"o","v":-0.00179},{"x":86.87,"s":"o","v":-0.00066},{"x":88.73,"s":"o","v":0.00026},{"x":90.6,"s":"o","v":0.00097},{"x":92.46,"s":"o","v":0.00199},{"x":94.32,"s":"o","v":0.00291},{"x":96.18,"s":"o","v":0.00291},{"x":98.05,"s":"o","v":0.0024},{"x":99.91,"s":"o","v":0.00163},{"x":101.77,"s":"o","v":0.00128},{"x":103.63,"s":"o","v":0.00128},{"x":105.49,"s":"o","v":0.00179},{"x":107.36,"s":"o","v":0.00199},{"x":109.22,"s":"o","v":0.00138},{"x":111.08,"s":"o","v":0.00128},{"x":112.94,"s":"o","v":0.00122},{"x":114.8,"s":"o","v":0.00097},{"x":116.67,"s":"o","v":0.00046},{"x":118.53,"s":"o","v":0.0001},{"x":120.39,"s":"o","v":-0.00005},{"x":122.25,"s":"o","v":-0.00015}
],
"el":[{"x":121.69,"v":0.00023}]
},
"layer":[
{"data":{"name":"grid"},"mark":{"type":"rule","color":"#000000","strokeDash":[3,3],"strokeWidth":1},
 "encoding":{"x":{"field":"x","type":"quantitative","scale":{"domain":[-0.5,141.25],"nice":false,"zero":false},
  "axis":{"orient":"bottom","values":[-0.5,10,22,34,46,58,70,82,94,106,118],"labelExpr":"['\u2002Jun 20:00','30 Jun 20:00','4 Jul 20:00','10 Jul 20:00','16 Jul 20:00','22 Jul 20:00','28 Jul 20:00','1 Aug 20:00','7 Aug 20:00','13 Aug 20:00','19 Aug 20:00'][datum.value < 0 ? 0 : round((datum.value + 2) / 12)]","labelAlign":"left","labelBaseline":"top","labelPadding":2,"tickSize":5,"labelBound":false,"domain":false}}}},
{"data":{"name":"sep"},"mark":{"type":"rule","color":"#000000","strokeWidth":1},
 "encoding":{"x":{"datum":-0.5,"type":"quantitative","scale":{"domain":[-0.5,141.25],"nice":false,"zero":false},"axis":null},"x2":{"datum":133.25},
  "y":{"field":"p","type":"quantitative","scale":{"domain":[-74.667,463.333],"nice":false,"zero":false},"axis":null}}},
{"data":{"name":"rb"},"transform":[{"fold":["r","o","g","b"],"as":["k","v"]}],"mark":{"type":"line","strokeWidth":1},
 "encoding":{"x":{"field":"x","type":"quantitative","scale":{"domain":[-0.5,141.25],"nice":false,"zero":false},"axis":null},
  "y":{"field":"v","type":"quantitative","scale":{"domain":[1.06488,1.18528],"nice":false,"zero":false},
  "axis":{"orient":"right","offset":-64,"values":[1.1803,1.173,1.1657,1.1584,1.1511,1.1438,1.1365,1.1292,1.1219,1.1146,1.1073],"format":".5f","tickSize":4,"labelPadding":4,"domain":true,"domainColor":"#000000"}},
  "color":{"field":"k","type":"nominal","scale":{"domain":["r","o","g","b"],"range":["#FF0000","#FFA500","#00D000","#1E90FF"]},"legend":null}}},
{"data":{"name":"px"},"mark":{"type":"line","color":"#191970","strokeWidth":7,"strokeJoin":"round"},
 "encoding":{"x":{"field":"x","type":"quantitative","scale":{"domain":[-0.5,141.25],"nice":false,"zero":false},"axis":null},
  "y":{"field":"ma","type":"quantitative","scale":{"domain":[1.06488,1.18528],"nice":false,"zero":false},"axis":null}}},
{"data":{"name":"lv"},"mark":{"type":"rule"},
 "encoding":{"x":{"datum":-0.5,"type":"quantitative","scale":{"domain":[-0.5,141.25],"nice":false,"zero":false},"axis":null},"x2":{"datum":133.25},
  "y":{"field":"p","type":"quantitative","scale":{"domain":[1.06488,1.18528],"nice":false,"zero":false},"axis":null},
  "color":{"field":"k","type":"nominal","scale":{"domain":["thick","thin","cur"],"range":["#FF0000","#FF0000","#4169E1"]},"legend":null},
  "strokeWidth":{"field":"k","type":"nominal","scale":{"domain":["thick","thin","cur"],"range":[2,1,1]},"legend":null}}},
{"data":{"name":"px"},"mark":{"type":"rule","strokeWidth":1},
 "encoding":{"x":{"field":"x","type":"quantitative","scale":{"domain":[-0.5,141.25],"nice":false,"zero":false},"axis":null},
  "y":{"field":"l","type":"quantitative","scale":{"domain":[1.06488,1.18528],"nice":false,"zero":false},"axis":null},"y2":{"field":"h"},
  "color":{"condition":{"test":"datum.c>=datum.o","value":"#8B0000"},"value":"#2F4F4F"}}},
{"data":{"name":"px"},"mark":{"type":"bar","width":5,"strokeWidth":1},
 "encoding":{"x":{"field":"x","type":"quantitative","scale":{"domain":[-0.5,141.25],"nice":false,"zero":false},"axis":null},
  "y":{"field":"o","type":"quantitative","scale":{"domain":[1.06488,1.18528],"nice":false,"zero":false},"axis":null},"y2":{"field":"c"},
  "fill":{"condition":{"test":"datum.c>=datum.o","value":"#E00000"},"value":"#98E898"},
  "stroke":{"condition":{"test":"datum.c>=datum.o","value":"#8B0000"},"value":"#2F4F4F"}}},
{"data":{"name":"zz"},"mark":{"type":"line","color":"#FF0000","strokeWidth":2},
 "encoding":{"x":{"field":"x","type":"quantitative","scale":{"domain":[-0.5,141.25],"nice":false,"zero":false},"axis":null},
  "y":{"field":"v","type":"quantitative","scale":{"domain":[1.06488,1.18528],"nice":false,"zero":false},"axis":null}}},
{"data":{"name":"arr"},"mark":{"type":"line","color":"#FF2A1A","strokeWidth":5},
 "encoding":{"x":{"field":"x","type":"quantitative","scale":{"domain":[-0.5,141.25],"nice":false,"zero":false},"axis":null},
  "y":{"field":"v","type":"quantitative","scale":{"domain":[1.06488,1.18528],"nice":false,"zero":false},"axis":null},"detail":{"field":"a","type":"nominal"}}},
{"data":{"name":"hd"},"transform":[{"filter":"datum.a==1"}],"mark":{"type":"point","shape":"M0,-1L0.85,1L-0.85,1Z","size":900,"filled":true,"color":"#FF2A1A","opacity":1,"angle":153.5},
 "encoding":{"x":{"field":"x","type":"quantitative","scale":{"domain":[-0.5,141.25],"nice":false,"zero":false},"axis":null},
  "y":{"field":"v","type":"quantitative","scale":{"domain":[1.06488,1.18528],"nice":false,"zero":false},"axis":null}}},
{"data":{"name":"hd"},"transform":[{"filter":"datum.a==2"}],"mark":{"type":"point","shape":"M0,-1L0.85,1L-0.85,1Z","size":900,"filled":true,"color":"#FF2A1A","opacity":1,"angle":20.9},
 "encoding":{"x":{"field":"x","type":"quantitative","scale":{"domain":[-0.5,141.25],"nice":false,"zero":false},"axis":null},
  "y":{"field":"v","type":"quantitative","scale":{"domain":[1.06488,1.18528],"nice":false,"zero":false},"axis":null}}},
{"data":{"name":"hd"},"transform":[{"filter":"datum.a==3"}],"mark":{"type":"point","shape":"M0,-1L0.85,1L-0.85,1Z","size":900,"filled":true,"color":"#FF2A1A","opacity":1,"angle":148.9},
 "encoding":{"x":{"field":"x","type":"quantitative","scale":{"domain":[-0.5,141.25],"nice":false,"zero":false},"axis":null},
  "y":{"field":"v","type":"quantitative","scale":{"domain":[1.06488,1.18528],"nice":false,"zero":false},"axis":null}}},
{"data":{"name":"hd"},"transform":[{"filter":"datum.a==4"}],"mark":{"type":"point","shape":"M0,-1L0.85,1L-0.85,1Z","size":900,"filled":true,"color":"#FF2A1A","opacity":1,"angle":48.8},
 "encoding":{"x":{"field":"x","type":"quantitative","scale":{"domain":[-0.5,141.25],"nice":false,"zero":false},"axis":null},
  "y":{"field":"v","type":"quantitative","scale":{"domain":[1.06488,1.18528],"nice":false,"zero":false},"axis":null}}},
{"data":{"name":"hd"},"transform":[{"filter":"datum.a==5"}],"mark":{"type":"point","shape":"M0,-1L0.85,1L-0.85,1Z","size":900,"filled":true,"color":"#FF2A1A","opacity":1,"angle":147},
 "encoding":{"x":{"field":"x","type":"quantitative","scale":{"domain":[-0.5,141.25],"nice":false,"zero":false},"axis":null},
  "y":{"field":"v","type":"quantitative","scale":{"domain":[1.06488,1.18528],"nice":false,"zero":false},"axis":null}}},
{"data":{"name":"lv"},"mark":{"type":"point","shape":"M-1,-0.2414L1,-0.2414L1,0.2414L-1,0.2414Z","size":3364,"filled":true,"opacity":1,"strokeWidth":0},
 "encoding":{"x":{"datum":137.125,"type":"quantitative","scale":{"domain":[-0.5,141.25],"nice":false,"zero":false},"axis":null},
  "y":{"field":"p","type":"quantitative","scale":{"domain":[1.06488,1.18528],"nice":false,"zero":false},"axis":null},
  "color":{"field":"k","type":"nominal","scale":{"domain":["thick","thin","cur"],"range":["#FF0000","#FF0000","#000000"]},"legend":null}}},
{"data":{"name":"lv"},"mark":{"type":"text","align":"left","baseline":"middle","color":"#FFFFFF","font":"DejaVu Sans","fontSize":11},
 "encoding":{"x":{"datum":134.25,"type":"quantitative","scale":{"domain":[-0.5,141.25],"nice":false,"zero":false},"axis":null},
  "y":{"field":"p","type":"quantitative","scale":{"domain":[1.06488,1.18528],"nice":false,"zero":false},"axis":null},
  "text":{"field":"p","type":"quantitative","format":".5f"}}},
{"data":{"name":"rl"},"mark":{"type":"rule"},
 "encoding":{"x":{"datum":-0.5,"type":"quantitative","scale":{"domain":[-0.5,141.25],"nice":false,"zero":false},"axis":null},"x2":{"datum":133.25},
  "y":{"field":"p","type":"quantitative","scale":{"domain":[-74.667,463.333],"nice":false,"zero":false},
   "axis":{"orient":"right","offset":-64,"values":[4,50,94.7],"labelExpr":"datum.value > 90 ? '100' : (datum.value < 10 ? '0' : '50')","tickSize":0,"labelPadding":3}},
  "color":{"field":"k","type":"nominal","scale":{"domain":["r1","r2","mid","b2","b1"],"range":["#FF0000","#FF0000","#707070","#0000FF","#0000FF"]},"legend":null},
  "strokeDash":{"field":"k","type":"nominal","scale":{"domain":["r1","r2","mid","b2","b1"],"range":[[1,0],[9,3,2,3],[3,3],[9,3,2,3],[1,0]]},"legend":null}}},
{"data":{"name":"rsi"},"mark":{"type":"line","strokeWidth":1},
 "encoding":{"x":{"field":"x","type":"quantitative","scale":{"domain":[-0.5,141.25],"nice":false,"zero":false},"axis":null},
  "y":{"field":"v","type":"quantitative","scale":{"domain":[-74.667,463.333],"nice":false,"zero":false},"axis":null},
  "color":{"field":"s","type":"nominal","scale":{"domain":["r","b","k"],"range":["#FF0000","#0000FF","#000000"]},"legend":null}}},
{"data":{"name":"rl"},"transform":[{"filter":"datum.k!='mid'"}],"mark":{"type":"point","shape":"M-1,-0.25L1,-0.25L1,0.25L-1,0.25Z","size":3136,"filled":true,"opacity":1,"strokeWidth":0},
 "encoding":{"x":{"datum":136.875,"type":"quantitative","scale":{"domain":[-0.5,141.25],"nice":false,"zero":false},"axis":null},
  "y":{"field":"p","type":"quantitative","scale":{"domain":[-74.667,463.333],"nice":false,"zero":false},"axis":null},
  "color":{"field":"k","type":"nominal","scale":{"domain":["r1","r2","b2","b1"],"range":["#FF0000","#FF0000","#0000FF","#0000FF"]},"legend":null}}},
{"data":{"name":"rl"},"transform":[{"filter":"datum.k!='mid'"}],"mark":{"type":"text","align":"left","baseline":"middle","color":"#FFFFFF","font":"DejaVu Sans","fontSize":11},
 "encoding":{"x":{"datum":134.0,"type":"quantitative","scale":{"domain":[-0.5,141.25],"nice":false,"zero":false},"axis":null},
  "y":{"field":"p","type":"quantitative","scale":{"domain":[-74.667,463.333],"nice":false,"zero":false},"axis":null},
  "text":{"field":"p","type":"quantitative","format":".4f"}}},
{"data":{"name":"mh"},"mark":{"type":"bar","width":6},
 "encoding":{"x":{"field":"x","type":"quantitative","scale":{"domain":[-0.5,141.25],"nice":false,"zero":false},"axis":null},
  "y":{"field":"v","type":"quantitative","scale":{"domain":[-0.007657,0.115927],"nice":false,"zero":false},
  "axis":{"orient":"right","offset":-64,"values":[0.0076571,0,-0.0066755],"labelExpr":"datum.value == 0 ? '0.00' : format(datum.value, '.7f')","tickSize":4,"labelPadding":0}},
  "y2":{"datum":0},
  "color":{"condition":{"test":"datum.v>=0","value":"#3A93E8"},"value":"#F8A98B"}}},
{"data":{"name":"ml"},"mark":{"type":"line","strokeWidth":2},
 "encoding":{"x":{"field":"x","type":"quantitative","scale":{"domain":[-0.5,141.25],"nice":false,"zero":false},"axis":null},
  "y":{"field":"v","type":"quantitative","scale":{"domain":[-0.007657,0.115927],"nice":false,"zero":false},"axis":null},
  "color":{"field":"s","type":"nominal","scale":{"domain":["b","o"],"range":["#0000CD","#FF8C00"]},"legend":null}}},
{"data":{"name":"el"},"mark":{"type":"point","shape":"M-1,0A1,0.89,0,1,1,1,0A1,0.89,0,1,1,-1,0Z","size":9025,"filled":false,"stroke":"#FF2020","strokeWidth":2,"opacity":1},
 "encoding":{"x":{"field":"x","type":"quantitative","scale":{"domain":[-0.5,141.25],"nice":false,"zero":false},"axis":null},
  "y":{"field":"v","type":"quantitative","scale":{"domain":[-0.007657,0.115927],"nice":false,"zero":false},"axis":null}}}
]
}
